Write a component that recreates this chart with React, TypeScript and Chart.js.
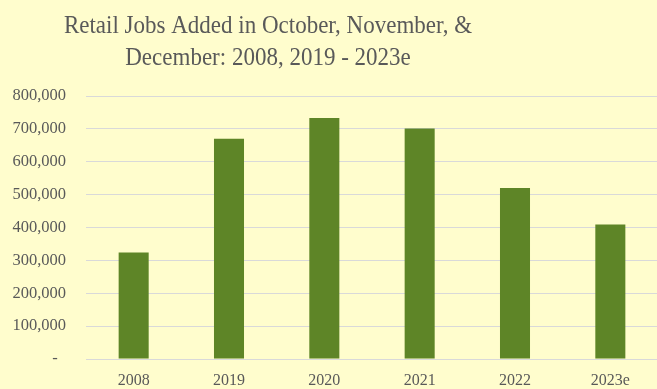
import React, { useEffect, useRef } from "react";
import { Chart, registerables } from "chart.js";

Chart.register(...registerables);

const categories = ["2008", "2019", "2020", "2021", "2022", "2023e"];
const jobsAdded = [324000, 670000, 733000, 701000, 520000, 409000];
const yTicks = [0, 100000, 200000, 300000, 400000, 500000, 600000, 700000, 800000];
const titleLines = ["Retail Jobs Added in October, November, &", "December: 2008, 2019 - 2023e"];

const BG = "#FFFDCD";
const TEXT = "#595959";
const FONT = "'Liberation Serif', serif";

const titlePlugin = {
  id: "customTitle",
  afterDraw(chart: any) {
    const ctx = chart.ctx;
    ctx.save();
    ctx.fillStyle = TEXT;
    ctx.font = `25px ${FONT}`;
    ctx.textAlign = "center";
    ctx.textBaseline = "alphabetic";
    const cx = 268;
    ctx.translate(cx, 0);
    ctx.scale(0.92, 1);
    ctx.fillText(titleLines[0], 0, 33);
    ctx.fillText(titleLines[1], 0, 65);
    ctx.restore();
  },
};

const bgPlugin = {
  id: "bg",
  beforeDraw(chart: any) {
    const ctx = chart.ctx;
    ctx.save();
    ctx.fillStyle = BG;
    ctx.fillRect(0, 0, chart.width, chart.height);
    ctx.restore();
  },
};

export default function App() {
  const ref = useRef<HTMLCanvasElement | null>(null);
  useEffect(() => {
    document.body.style.margin = "0";
    document.body.style.background = BG;
    const chart = new Chart(ref.current as HTMLCanvasElement, {
      type: "bar",
      data: {
        labels: categories,
        datasets: [
          {
            data: jobsAdded,
            backgroundColor: "#5E8527",
            borderWidth: 0,
            barPercentage: 0.315,
            categoryPercentage: 1,
          },
        ],
      },
      options: {
        responsive: false,
        animation: false,
        layout: { padding: { top: 96, right: 0, left: 0, bottom: 0 } },
        plugins: { legend: { display: false }, title: { display: false }, tooltip: { enabled: false } },
        scales: {
          x: {
            grid: { display: false, drawTicks: false },
            border: { display: true, color: "#D9D9D9", width: 1 },
            ticks: { color: TEXT, font: { family: FONT, size: 16 }, padding: 12 },
            afterFit(scale: any) {
              scale.height = 30;
            },
          },
          y: {
            min: 0,
            max: 800000,
            afterBuildTicks(scale: any) {
              scale.ticks = yTicks.map((v) => ({ value: v }));
            },
            grid: { color: "#D9D9D9", lineWidth: 1, drawTicks: false },
            border: { display: false },
            ticks: {
              color: TEXT,
              font: { family: FONT, size: 16.5 },
              padding: 20,
              callback: (v: any) => (Number(v) === 0 ? "-  " : Number(v).toLocaleString("en-US")),
            },
            afterFit(scale: any) {
              scale.width = 86;
            },
          },
        },
      },
      plugins: [bgPlugin, titlePlugin],
    });
    return () => chart.destroy();
  }, []);
  return (
    <div style={{ position: "fixed", left: 0, top: 0, width: 658, height: 389 }}>
      <canvas ref={ref} width={658} height={389} style={{ width: 658, height: 389 }} />
    </div>
  );
}
